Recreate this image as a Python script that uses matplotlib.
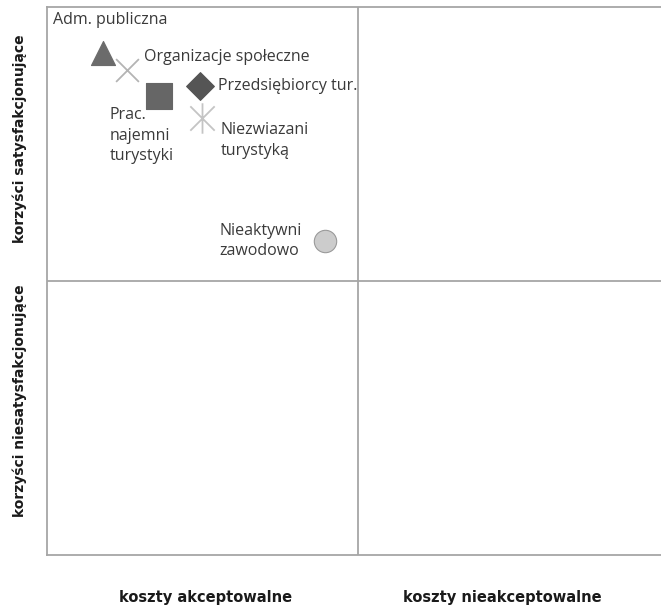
import matplotlib.pyplot as plt
from matplotlib.path import Path

# groups on the cost (x) / benefit (y) plane, 0-10 scale, split at 5
groups = ["Adm. publiczna", "Organizacje społeczne", "Prac.\nnajemni\nturystyki",
          "Przedsiębiorcy tur.", "Niezwiazani\nturystyką", "Nieaktywni\nzawodowo"]
koszty = [0.90, 1.29, 1.80, 2.46, 2.50, 4.48]
korzysci = [9.16, 8.85, 8.38, 8.56, 7.97, 5.73]

x_labels = ["koszty akceptowalne", "koszty nieakceptowalne"]
y_labels = ["korzyści satysfakcjonujące", "korzyści niesatysfakcjonujące"]

# excel-like star: vertical bar plus an X
star = Path([(0, -1), (0, 1), (-0.8, -0.8), (0.8, 0.8), (-0.8, 0.8), (0.8, -0.8)],
            [Path.MOVETO, Path.LINETO] * 3)

markers = ["^", "x", "s", "D", star, "o"]
colors = ["#6b6b6b", "#b4b4b4", "#666666", "#555555", "#c4c4c4", "#cccccc"]
sizes = [300, 270, 330, 200, 480, 260]

fig = plt.figure(figsize=(6.61, 6.13), dpi=100)
ax = fig.add_axes([47 / 661, 1 - 555 / 613, 621 / 661, 548 / 613])
ax.set_xlim(0, 10)
ax.set_ylim(0, 10)
ax.set_xticks([])
ax.set_yticks([])
for side in ax.spines.values():
    side.set_color("#a6a6a6")
    side.set_linewidth(1.3)
ax.axvline(5, color="#a6a6a6", lw=1.3)
ax.axhline(5, color="#a6a6a6", lw=1.3)

for i in range(len(groups)):
    m = markers[i]
    if m == "x" or m is star:
        ax.scatter(koszty[i], korzysci[i], marker=m, s=sizes[i], color=colors[i],
                   linewidths=1.3, zorder=3)
    else:
        ax.scatter(koszty[i], korzysci[i], marker=m, s=sizes[i], color=colors[i],
                   edgecolors="#9a9a9a" if m == "o" else colors[i], linewidths=0.8, zorder=3)

# point labels, offsets from the marker
lbl = dict(fontsize=11.5, family="Open Sans", color="#3a3a3a", linespacing=1.4)
ax.text(koszty[0] - 0.80, korzysci[0] + 0.60, groups[0], va="center", ha="left", **lbl)
ax.text(koszty[1] + 0.27, korzysci[1] + 0.24, groups[1], va="center", ha="left", **lbl)
ax.text(koszty[2] - 0.79, korzysci[2] - 0.20, groups[2], va="top", ha="left", **lbl)
ax.text(koszty[3] + 0.30, korzysci[3], groups[3], va="center", ha="left", **lbl)
ax.text(koszty[4] + 0.30, korzysci[4] - 0.40, groups[4], va="center", ha="left", **lbl)
ax.text(koszty[5] - 0.38, korzysci[5], groups[5], va="center", ha="right",
        multialignment="left", **lbl)

# quadrant captions outside the frame
for xc, txt in zip([2.56, 7.33], x_labels):
    ax.text(xc, -0.77, txt, fontsize=10.5, fontweight="bold", family="DejaVu Sans",
            ha="center", va="center", color="#1a1a1a")
for yc, txt in zip([7.59, 2.81], y_labels):
    ax.text(-0.44, yc, txt, fontsize=10, fontweight="bold", rotation=90,
            family="DejaVu Sans", ha="center", va="center", color="#1a1a1a")

fig.savefig("out.png", dpi=100)
